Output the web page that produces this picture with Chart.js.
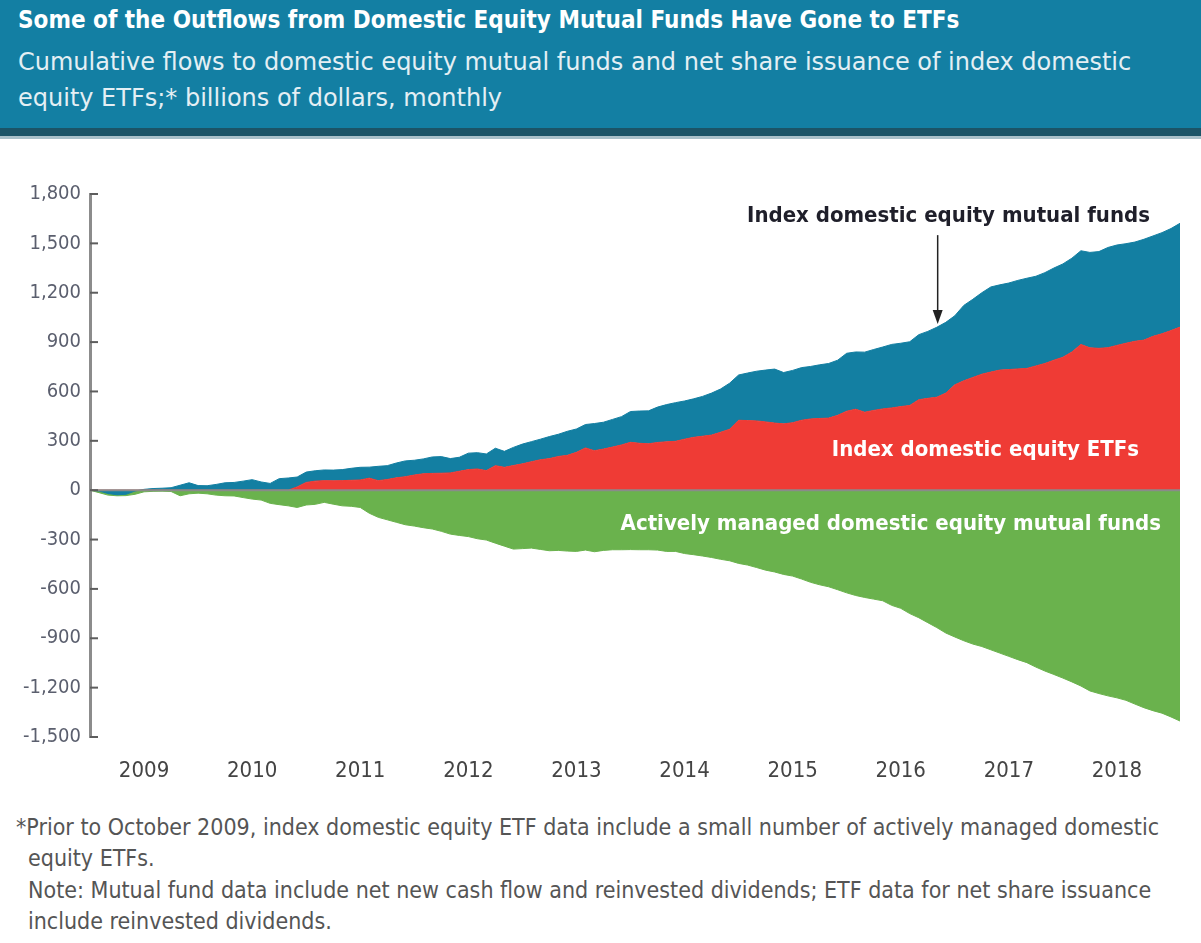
<!DOCTYPE html>
<html>
<head>
<meta charset="utf-8">
<script src="https://cdn.jsdelivr.net/npm/chart.js@4/dist/chart.umd.min.js"></script>
<style>
  body { margin: 0; background: #fff; width: 1201px; height: 943px; overflow: hidden; font-family: "DejaVu Sans Condensed", "DejaVu Sans", sans-serif; }
  #head { position: absolute; left: 0; top: 0; width: 1201px; height: 128px; background: #137fa3; }
  #stripe { position: absolute; left: 0; top: 128px; width: 1201px; height: 8px; background: #1b5467; }
  #line { position: absolute; left: 0; top: 136px; width: 1201px; height: 3px; background: #a9c0c9; }
  #title { position: absolute; left: 18px; top: 6px; color: #fff; font-weight: bold; font-size: 24px; white-space: nowrap; }
  #sub { position: absolute; left: 18px; top: 44px; color: #e4eff4; font-family: "DejaVu Sans", sans-serif; font-size: 24px; line-height: 36px; white-space: nowrap; }
  #wrap { position: absolute; left: 0; top: 140px; width: 1201px; height: 660px; }
  .note { position: absolute; color: #555; font-size: 23px; white-space: nowrap; }
</style>
</head>
<body>
<div id="head"></div>
<div id="stripe"></div>
<div id="line"></div>
<div id="title">Some of the Outflows from Domestic Equity Mutual Funds Have Gone to ETFs</div>
<div id="sub">Cumulative flows to domestic equity mutual funds and net share issuance of index domestic<br>equity ETFs;* billions of dollars, monthly</div>
<div id="wrap"><canvas id="flowChart"></canvas></div>
<div class="note" style="left:16px;top:814px;">*Prior to October 2009, index domestic equity ETF data include a small number of actively managed domestic</div>
<div class="note" style="left:28px;top:845px;">equity ETFs.</div>
<div class="note" style="left:28px;top:877px;">Note: Mutual fund data include net new cash flow and reinvested dividends; ETF data for net share issuance</div>
<div class="note" style="left:28px;top:908px;">include reinvested dividends.</div>

<script>
// monthly, Jan 2009 - Feb 2019, billions of dollars (cumulative)
const yearLabels = ["2009", "2010", "2011", "2012", "2013", "2014", "2015", "2016", "2017", "2018"];

const etfFlows = [
  0, 0, 0, 0, 0, 0, 0, 0, 0, 0, 0, 0,
  0, 0, 0, 0, 0, 0, 0, 0, 0, 0, 0, 20,
  47, 55, 58, 57, 58, 60, 62, 73, 58, 65, 75, 82,
  92, 100, 102, 103, 105, 115, 125, 129, 119, 149, 139, 150,
  160, 173, 185, 192, 205, 212, 230, 257, 240, 250, 262, 275,
  291, 285, 282, 290, 294, 297, 310, 321, 328, 335, 352, 370,
  425, 423, 421, 415, 408, 403, 410, 425, 433, 436, 438, 455,
  480, 492, 474, 485, 494, 500, 508, 515, 550, 558, 565, 590,
  640, 665, 685, 705, 718, 730, 733, 737, 740, 755, 770, 790,
  808, 840, 886, 865, 862, 866, 880, 893, 905, 912, 935, 951,
  970, 991
];

const indexMfFlows = [
  0, -5, -20, -28, -25, -5, 5, 10, 12, 15, 30, 45,
  28, 27, 35, 45, 47, 55, 64, 50, 41, 70, 74, 60,
  63, 63, 65, 65, 67, 73, 77, 67, 87, 84, 90, 96,
  90, 90, 100, 101, 87, 85, 100, 99, 101, 106, 97, 110,
  120, 122, 125, 134, 135, 146, 142, 142, 165, 163, 168, 172,
  187, 196, 200, 215, 226, 235, 232, 234, 242, 255, 263, 280,
  275, 289, 302, 315, 328, 312, 318, 320, 319, 326, 332, 335,
  352, 348, 365, 370, 376, 386, 385, 387, 395, 407, 425, 430,
  420, 458, 475, 495, 517, 518, 526, 538, 548, 545, 552, 560,
  567, 570, 569, 580, 588, 609, 610, 605, 603, 613, 610, 614,
  620, 631
];

const activeMfFlows = [
  0, -15, -30, -34, -33, -25, -10, -7, -6, -8, -34, -22,
  -18, -22, -30, -34, -35, -45, -54, -60, -80, -88, -95, -105,
  -90, -86, -74, -85, -95, -98, -105, -140, -165, -180, -195, -210,
  -218, -228, -236, -250, -267, -275, -282, -295, -303, -322, -340, -358,
  -355, -352, -360, -368, -366, -370, -372, -364, -374, -366, -362, -362,
  -361, -362, -362, -364, -372, -372, -385, -392, -400, -409, -420, -429,
  -445, -455, -470, -486, -497, -512, -522, -540, -560, -575, -587, -605,
  -624, -640, -652, -662, -672, -700, -718, -750, -775, -805, -835, -868,
  -892, -915, -935, -950, -970, -990, -1010, -1030, -1048, -1075, -1099, -1120,
  -1142, -1165, -1190, -1220, -1236, -1250, -1262, -1277, -1300, -1322, -1340, -1355,
  -1378, -1403
];

const months = [];
for (let i = 0; i < etfFlows.length; i++) {
  const y = 2009 + Math.floor(i / 12);
  const m = (i % 12) + 1;
  months.push(y + "-" + (m < 10 ? "0" + m : m));
}

const labelFont = "bold 22px 'DejaVu Sans Condensed', 'DejaVu Sans', sans-serif";

// axis ticks on the inside, zero line and the text labels
const extras = {
  id: "extras",
  afterDatasetsDraw(chart) {
    const ctx = chart.ctx;
    const x = chart.scales.x, y = chart.scales.y;
    const area = chart.chartArea;
    ctx.save();
    ctx.strokeStyle = "#8a8a8a";
    ctx.lineWidth = 2;
    ctx.beginPath();
    ctx.moveTo(area.left, y.getPixelForValue(0));
    ctx.lineTo(area.right, y.getPixelForValue(0));
    ctx.stroke();

    ctx.strokeStyle = "#5d5d5d";
    y.ticks.forEach((t, i) => {
      const py = y.getPixelForTick(i);
      ctx.beginPath();
      ctx.moveTo(area.left, py);
      ctx.lineTo(area.left + 8, py);
      ctx.stroke();
    });

    ctx.font = labelFont;
    ctx.textAlign = "center";
    ctx.textBaseline = "middle";
    ctx.fillStyle = "#1f1f2a";
    ctx.fillText("Index domestic equity mutual funds", x.getPixelForValue(95.3), y.getPixelForValue(1665));
    ctx.fillStyle = "#ffffff";
    ctx.fillText("Index domestic equity ETFs", x.getPixelForValue(99.4), y.getPixelForValue(240));
    ctx.fillText("Actively managed domestic equity mutual funds", x.getPixelForValue(88.9), y.getPixelForValue(-205));

    // arrow
    const ax = x.getPixelForValue(93.5 + 0.6);
    const top = y.getPixelForValue(1550);
    const tip = y.getPixelForValue(1010);
    ctx.strokeStyle = "#222";
    ctx.fillStyle = "#222";
    ctx.lineWidth = 1.5;
    ctx.beginPath();
    ctx.moveTo(ax, top);
    ctx.lineTo(ax, tip - 8);
    ctx.stroke();
    ctx.beginPath();
    ctx.moveTo(ax - 5, tip - 14);
    ctx.lineTo(ax, tip);
    ctx.lineTo(ax + 5, tip - 14);
    ctx.closePath();
    ctx.fill();
    ctx.restore();
  }
};

const ctx = document.getElementById("flowChart").getContext("2d");
new Chart(ctx, {
  type: "line",
  data: {
    labels: months,
    datasets: [
      {
        label: "Index domestic equity ETFs",
        data: etfFlows,
        stack: "pos",
        backgroundColor: "#ef3b35",
        borderColor: "#ef3b35",
        borderWidth: 1,
        fill: "origin"
      },
      {
        label: "Index domestic equity mutual funds",
        data: indexMfFlows,
        stack: "pos",
        backgroundColor: "#137fa2",
        borderColor: "#137fa2",
        borderWidth: 1,
        fill: "-1"
      },
      {
        label: "Actively managed domestic equity mutual funds",
        data: activeMfFlows,
        stack: "neg",
        backgroundColor: "#6ab24d",
        borderColor: "#6ab24d",
        borderWidth: 1,
        fill: "origin"
      }
    ]
  },
  options: {
    responsive: true,
    maintainAspectRatio: false,
    animation: false,
    elements: { point: { radius: 0 }, line: { tension: 0 } },
    layout: { padding: { top: 54, right: 15, left: 0, bottom: 0 } },
    plugins: { legend: { display: false }, tooltip: { enabled: false } },
    scales: {
      x: {
        grid: { display: false, drawTicks: false },
        border: { display: false },
        afterFit: s => { s.height = 63; },
        ticks: {
          autoSkip: false,
          maxRotation: 0,
          padding: 21,
          color: "#444",
          font: { family: "'DejaVu Sans Condensed', 'DejaVu Sans', sans-serif", size: 22 },
          callback: function (v) {
            const lab = this.getLabelForValue(v);
            const yr = lab.slice(0, 4);
            return lab.endsWith("-07") && yearLabels.includes(yr) ? yr : "";
          }
        }
      },
      y: {
        stacked: true,
        min: -1500,
        max: 1800,
        grid: { display: false, drawTicks: false },
        border: { display: true, color: "#8c8c8c", width: 3 },
        afterFit: s => { s.width = 90; },
        ticks: {
          stepSize: 300,
          padding: 9,
          color: "#5b5f6e",
          font: { family: "'DejaVu Sans Condensed', 'DejaVu Sans', sans-serif", size: 20 }
        }
      }
    }
  },
  plugins: [extras]
});
</script>
</body>
</html>
